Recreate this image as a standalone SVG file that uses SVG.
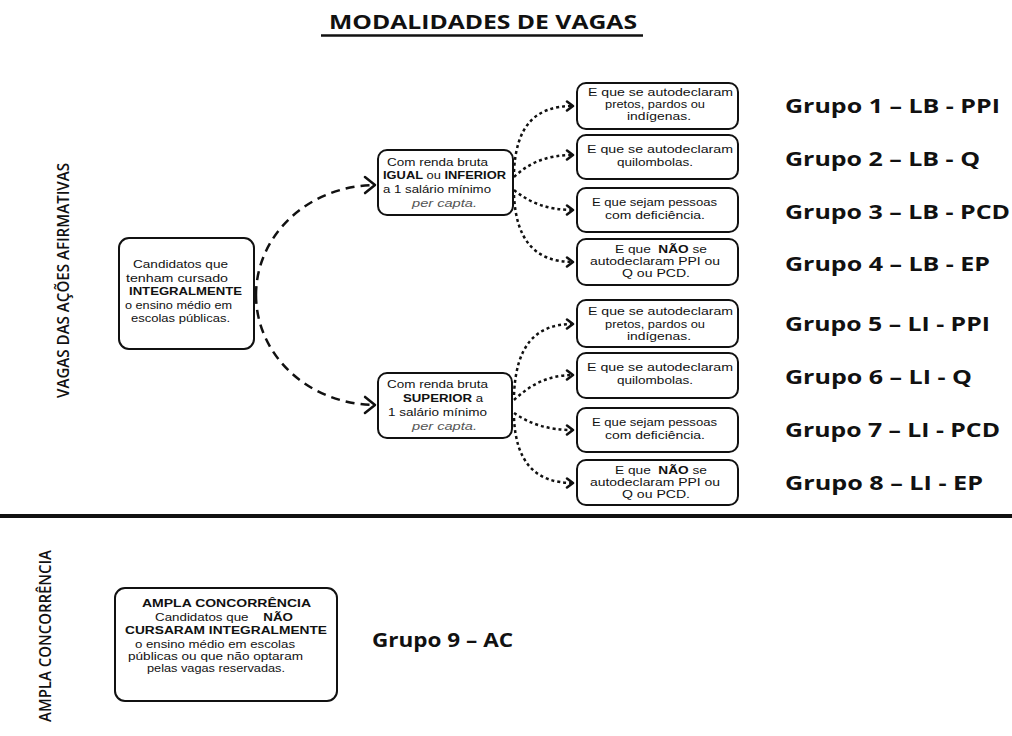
<svg xmlns="http://www.w3.org/2000/svg" width="1012" height="736" viewBox="0 0 1012 736">
<style>
.bg{fill:#fff}
.box{fill:#fff;stroke:#111;stroke-width:2}
.t{font-family:"Liberation Sans","Open Sans",sans-serif;font-size:10.5px;fill:#111}
.b{font-weight:700}
.it{font-style:italic;fill:#555}
.g{font-family:"Open Sans","Liberation Sans",sans-serif;font-weight:700;font-size:19px;fill:#111}
.v{font-family:"Open Sans","Liberation Sans",sans-serif;font-weight:600;font-size:17px;fill:#111}
.dash{fill:none;stroke:#111;stroke-width:2.5;stroke-dasharray:9 6}
.dot{fill:none;stroke:#111;stroke-width:2.5;stroke-dasharray:3 3}
</style>
<defs>
<marker id="bigArrow" markerUnits="userSpaceOnUse" markerWidth="14" markerHeight="20" viewBox="0 0 14 20" refX="12" refY="10" orient="auto">
<path d="M2,2 L12,10 L2,18" fill="none" stroke="#111" stroke-width="2.5" stroke-linecap="round" stroke-linejoin="round"/>
</marker>
<marker id="smallArrow" markerUnits="userSpaceOnUse" markerWidth="10" markerHeight="12" viewBox="0 0 10 12" refX="8" refY="6" orient="auto">
<path d="M2,1.5 L8,6 L2,10.5" fill="none" stroke="#111" stroke-width="2.5" stroke-linecap="round" stroke-linejoin="round"/>
</marker>
</defs>
<rect class="bg" x="0" y="0" width="1012" height="736"/>

<g id="title">
<text class="g" x="329" y="29" textLength="308" lengthAdjust="spacingAndGlyphs">MODALIDADES DE VAGAS</text>
<line x1="321" y1="35.5" x2="643" y2="35.5" stroke="#111" stroke-width="2.5"/>
</g>

<g id="side-labels">
<text class="v" transform="translate(69,398) rotate(-90)" x="0" y="0" textLength="235" lengthAdjust="spacingAndGlyphs">VAGAS DAS AÇÕES AFIRMATIVAS</text>
<text class="v" transform="translate(51,722) rotate(-90)" x="0" y="0" textLength="172" lengthAdjust="spacingAndGlyphs">AMPLA CONCORRÊNCIA</text>
</g>

<g id="separator">
<rect x="0" y="514" width="1012" height="4" fill="#111"/>
</g>

<g id="connectors">
<path class="dash" d="M256 295 A120 110 0 0 1 375 185" marker-end="url(#bigArrow)"/>
<path class="dash" d="M256 295 A120 110 0 0 0 375 405" marker-end="url(#bigArrow)"/>
<path class="dot" d="M514 172 C516 126 535 106 573 106" marker-end="url(#smallArrow)"/>
<path class="dot" d="M514 177 C530 162 548 155 573 155" marker-end="url(#smallArrow)"/>
<path class="dot" d="M514 190 C530 203 548 210 573 210" marker-end="url(#smallArrow)"/>
<path class="dot" d="M514 195 C516 240 535 262 573 262" marker-end="url(#smallArrow)"/>
<path class="dot" d="M514 395 C516 346 535 324 573 324" marker-end="url(#smallArrow)"/>
<path class="dot" d="M514 400 C530 385 548 375 573 375" marker-end="url(#smallArrow)"/>
<path class="dot" d="M514 413 C530 424 548 430 573 430" marker-end="url(#smallArrow)"/>
<path class="dot" d="M514 418 C516 462 535 483 573 483" marker-end="url(#smallArrow)"/>
</g>

<g id="node-left">
<rect class="box" x="119" y="238" width="135" height="111" rx="10"/>
<text class="t" x="133" y="268" textLength="95" lengthAdjust="spacingAndGlyphs">Candidatos que</text>
<text class="t" x="126" y="282" textLength="102" lengthAdjust="spacingAndGlyphs">tenham cursado</text>
<text class="t b" x="129" y="295" textLength="113" lengthAdjust="spacingAndGlyphs">INTEGRALMENTE</text>
<text class="t" x="125" y="309" textLength="107" lengthAdjust="spacingAndGlyphs">o ensino médio em</text>
<text class="t" x="131" y="322" textLength="99" lengthAdjust="spacingAndGlyphs">escolas públicas.</text>
</g>

<g id="node-mid-top">
<rect class="box" x="378" y="150" width="135" height="65" rx="9"/>
<text class="t" x="387" y="166" textLength="101" lengthAdjust="spacingAndGlyphs">Com renda bruta</text>
<text class="t" x="383" y="179" textLength="123" lengthAdjust="spacingAndGlyphs"><tspan class="b">IGUAL</tspan> ou <tspan class="b">INFERIOR</tspan></text>
<text class="t" x="383" y="193" textLength="108" lengthAdjust="spacingAndGlyphs">a 1 salário mínimo</text>
<text class="t it" x="412" y="207" textLength="65" lengthAdjust="spacingAndGlyphs">per capta.</text>
</g>

<g id="node-mid-bottom">
<rect class="box" x="378" y="373" width="134" height="65" rx="9"/>
<text class="t" x="387" y="388" textLength="101" lengthAdjust="spacingAndGlyphs">Com renda bruta</text>
<text class="t" x="403" y="402" textLength="80" lengthAdjust="spacingAndGlyphs"><tspan class="b">SUPERIOR</tspan> a</text>
<text class="t" x="388" y="416" textLength="99" lengthAdjust="spacingAndGlyphs">1 salário mínimo</text>
<text class="t it" x="412" y="430" textLength="65" lengthAdjust="spacingAndGlyphs">per capta.</text>
</g>

<g id="node-r1">
<rect class="box" x="577" y="83" width="161" height="46" rx="9"/>
<text class="t" x="588" y="96" textLength="145" lengthAdjust="spacingAndGlyphs">E que se autodeclaram</text>
<text class="t" x="605" y="108" textLength="100" lengthAdjust="spacingAndGlyphs">pretos, pardos ou</text>
<text class="t" x="627" y="120" textLength="64" lengthAdjust="spacingAndGlyphs">indígenas.</text>
</g>
<g id="node-r2">
<rect class="box" x="577" y="135" width="161" height="44" rx="9"/>
<text class="t" x="587" y="153" textLength="146" lengthAdjust="spacingAndGlyphs">E que se autodeclaram</text>
<text class="t" x="617" y="166" textLength="76" lengthAdjust="spacingAndGlyphs">quilombolas.</text>
</g>
<g id="node-r3">
<rect class="box" x="577" y="188" width="161" height="44" rx="9"/>
<text class="t" x="592" y="206" textLength="125" lengthAdjust="spacingAndGlyphs">E que sejam pessoas</text>
<text class="t" x="605" y="219" textLength="100" lengthAdjust="spacingAndGlyphs">com deficiência.</text>
</g>
<g id="node-r4">
<rect class="box" x="577" y="239" width="161" height="46" rx="9"/>
<text class="t" x="615" y="253" textLength="92" lengthAdjust="spacingAndGlyphs" xml:space="preserve">E que  <tspan class="b">NÃO</tspan> se</text>
<text class="t" x="590" y="265" textLength="130" lengthAdjust="spacingAndGlyphs">autodeclaram PPI ou</text>
<text class="t" x="622" y="277" textLength="68" lengthAdjust="spacingAndGlyphs">Q ou PCD.</text>
</g>

<g id="node-r5">
<rect class="box" x="577" y="300" width="161" height="47" rx="9"/>
<text class="t" x="588" y="315" textLength="145" lengthAdjust="spacingAndGlyphs">E que se autodeclaram</text>
<text class="t" x="605" y="328" textLength="100" lengthAdjust="spacingAndGlyphs">pretos, pardos ou</text>
<text class="t" x="627" y="340" textLength="64" lengthAdjust="spacingAndGlyphs">indígenas.</text>
</g>
<g id="node-r6">
<rect class="box" x="577" y="353" width="161" height="45" rx="9"/>
<text class="t" x="587" y="371" textLength="146" lengthAdjust="spacingAndGlyphs">E que se autodeclaram</text>
<text class="t" x="617" y="384" textLength="76" lengthAdjust="spacingAndGlyphs">quilombolas.</text>
</g>
<g id="node-r7">
<rect class="box" x="577" y="408" width="161" height="44" rx="9"/>
<text class="t" x="592" y="426" textLength="125" lengthAdjust="spacingAndGlyphs">E que sejam pessoas</text>
<text class="t" x="605" y="439" textLength="100" lengthAdjust="spacingAndGlyphs">com deficiência.</text>
</g>
<g id="node-r8">
<rect class="box" x="577" y="460" width="161" height="45" rx="9"/>
<text class="t" x="615" y="474" textLength="92" lengthAdjust="spacingAndGlyphs" xml:space="preserve">E que  <tspan class="b">NÃO</tspan> se</text>
<text class="t" x="590" y="486" textLength="130" lengthAdjust="spacingAndGlyphs">autodeclaram PPI ou</text>
<text class="t" x="622" y="498" textLength="68" lengthAdjust="spacingAndGlyphs">Q ou PCD.</text>
</g>

<g id="group-labels">
<text class="g" x="785" y="113" textLength="215" lengthAdjust="spacingAndGlyphs">Grupo 1 – LB - PPI</text>
<text class="g" x="785" y="166" textLength="195" lengthAdjust="spacingAndGlyphs">Grupo 2 – LB - Q</text>
<text class="g" x="785" y="219" textLength="225" lengthAdjust="spacingAndGlyphs">Grupo 3 – LB - PCD</text>
<text class="g" x="785" y="271" textLength="205" lengthAdjust="spacingAndGlyphs">Grupo 4 – LB - EP</text>
<text class="g" x="785" y="331" textLength="205" lengthAdjust="spacingAndGlyphs">Grupo 5 – LI - PPI</text>
<text class="g" x="785" y="384" textLength="187" lengthAdjust="spacingAndGlyphs">Grupo 6 – LI - Q</text>
<text class="g" x="785" y="437" textLength="215" lengthAdjust="spacingAndGlyphs">Grupo 7 – LI - PCD</text>
<text class="g" x="785" y="490" textLength="198" lengthAdjust="spacingAndGlyphs">Grupo 8 – LI - EP</text>
<text class="g" x="372" y="647" textLength="141" lengthAdjust="spacingAndGlyphs">Grupo 9 – AC</text>
</g>

<g id="node-ampla">
<rect class="box" x="115" y="588" width="222" height="113" rx="10"/>
<text class="t b" x="142" y="607" textLength="169" lengthAdjust="spacingAndGlyphs">AMPLA CONCORRÊNCIA</text>
<text class="t" x="155" y="621" textLength="138" lengthAdjust="spacingAndGlyphs" xml:space="preserve">Candidatos que    <tspan class="b">NÃO</tspan></text>
<text class="t b" x="125" y="634" textLength="202" lengthAdjust="spacingAndGlyphs">CURSARAM INTEGRALMENTE</text>
<text class="t" x="135" y="648" textLength="160" lengthAdjust="spacingAndGlyphs">o ensino médio em escolas</text>
<text class="t" x="128" y="660" textLength="175" lengthAdjust="spacingAndGlyphs">públicas ou que não optaram</text>
<text class="t" x="147" y="672" textLength="138" lengthAdjust="spacingAndGlyphs">pelas vagas reservadas.</text>
</g>
</svg>
